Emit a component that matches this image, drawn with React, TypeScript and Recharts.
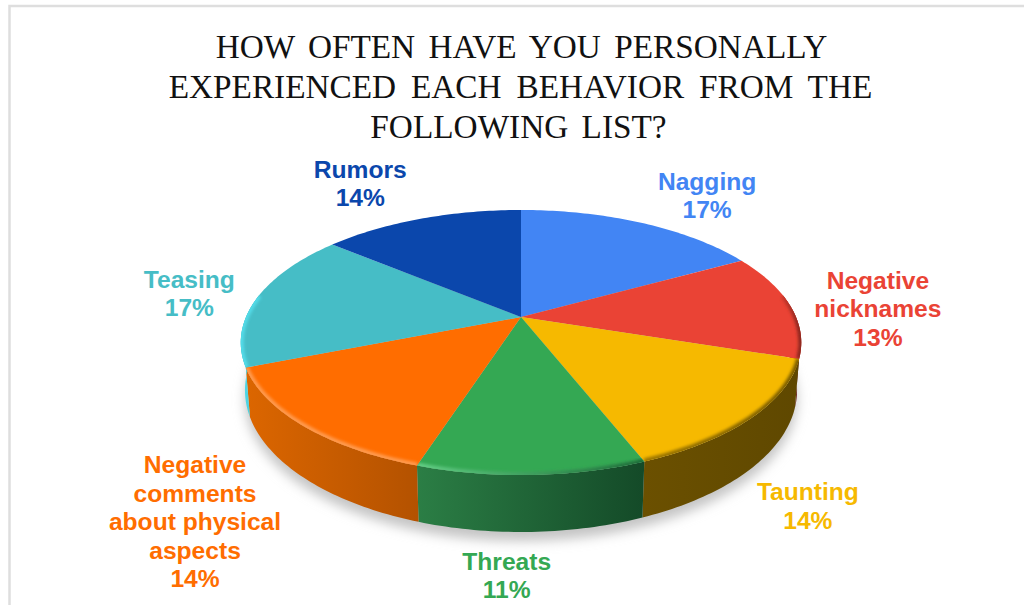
import React from "react";
import { PieChart, Pie, Cell } from "recharts";

const CATEGORIES = ["Nagging", "Negative nicknames", "Taunting", "Threats", "Negative comments about physical aspects", "Teasing", "Rumors"];
const SHARES = [17, 13, 14, 11, 14, 17, 14];
const LABEL_LINES = [["Nagging"], ["Negative", "nicknames"], ["Taunting"], ["Threats"], ["Negative", "comments", "about physical", "aspects"], ["Teasing"], ["Rumors"]];
const TITLE_LINES = ["HOW OFTEN HAVE YOU PERSONALLY", "EXPERIENCED EACH BEHAVIOR FROM THE", "FOLLOWING LIST?"];
const TITLE_CENTERS = [521.5, 520.5, 518.5];
const TITLE_WORD_GAPS = [5, 6.5, 5];

const TOP_COLORS = ["#4285f4", "#ea4335", "#f6b900", "#34a853", "#ff6d00", "#46bdc6", "#0b47ac"];
const WALL_LEFT = ["#2f5db0", "#8c271f", "#6b5000", "#2b7e45", "#dc6600", "#4fd6e4", "#08327a"];
const WALL_RIGHT = ["#2f5db0", "#5e1812", "#5f4800", "#144a28", "#b45200", "#3fc0cc", "#08327a"];
const RIM_LEFT = ["#4285f4", "#c9372c", "#9c7600", "#62cf85", "#ff9a4d", "#52dbe8", "#0b47ac"];
const RIM_RIGHT = ["#4285f4", "#8c271f", "#7a5c00", "#1d6b38", "#ff9a4d", "#52dbe8", "#0b47ac"];

// Label block centre relative to the rim point at each slice's middle angle
const LABEL_SHIFT = [[66, -28], [88, 3], [56, 88], [-25, 100], [-107, 96], [-68, -4.5], [-61, -35.5]];

const CENTER_X = 521;
const CENTER_Y = 317;
const RADIUS = 275;
const TILT = 0.464;
const PERSPECTIVE = 0.1925;
const WALL_DEPTH = 46;
const FLOOR_SHRINK = 0.985;
const WALL_FROM = 80;
const WALL_TO = 280;

const toClock = (deg: number) => 90 - deg;

// Project a clockwise-from-top angle onto the tilted disc with perspective
function rim(clockDeg: number, cx: number, cy: number, r: number) {
  const t = (clockDeg * Math.PI) / 180;
  const across = Math.sin(t);
  const toward = -Math.cos(t);
  const w = 1 - PERSPECTIVE * toward;
  return { x: cx + (r * across) / w, y: cy + (r * TILT * toward) / w, w };
}

function floor(clockDeg: number, cx: number, cy: number, r: number) {
  const p = rim(clockDeg, cx, cy, r);
  return { x: cx + (p.x - cx) * FLOOR_SHRINK, y: p.y + WALL_DEPTH / p.w };
}

function arcPoints(from: number, to: number, at: (d: number) => { x: number; y: number }) {
  const n = Math.max(2, Math.ceil(Math.abs(to - from)));
  const out: string[] = [];
  for (let i = 0; i <= n; i++) {
    const p = at(from + ((to - from) * i) / n);
    out.push(`${p.x.toFixed(2)} ${p.y.toFixed(2)}`);
  }
  return out;
}

function ShadowShape(props: any) {
  const { cx, cy, outerRadius } = props;
  const pts = arcPoints(0, 360, (d) => {
    const p = floor(d, cx, cy, outerRadius);
    return { x: p.x, y: p.y + 9 };
  });
  return (
    <g>
      <defs>
        <filter id="discShadow" x="-20%" y="-30%" width="140%" height="160%">
          <feGaussianBlur stdDeviation="6" />
        </filter>
        <filter id="rimSoft" x="-20%" y="-20%" width="140%" height="140%" filterUnits="objectBoundingBox">
          <feGaussianBlur stdDeviation="1.5" />
        </filter>
      </defs>
      <path d={`M${pts.join("L")}Z`} fill="#c4c4c4" filter="url(#discShadow)" />
    </g>
  );
}

function WallShape(props: any) {
  const { cx, cy, outerRadius, startAngle, endAngle, index } = props;
  const from = Math.max(toClock(startAngle), WALL_FROM);
  const to = Math.min(toClock(endAngle), WALL_TO);
  if (to <= from) return <g />;
  const upper = arcPoints(from, to, (d) => rim(d, cx, cy, outerRadius));
  const lower = arcPoints(to, from, (d) => floor(d, cx, cy, outerRadius));
  const a = rim(from, cx, cy, outerRadius).x;
  const b = rim(to, cx, cy, outerRadius).x;
  const id = `wall-${index}`;
  return (
    <g>
      <defs>
        <linearGradient id={id} gradientUnits="userSpaceOnUse" x1={Math.min(a, b)} x2={Math.max(a, b)} y1={0} y2={0}>
          <stop offset="0" stopColor={WALL_LEFT[index]} />
          <stop offset="1" stopColor={WALL_RIGHT[index]} />
        </linearGradient>
      </defs>
      <path d={`M${upper.join("L")}L${lower.join("L")}Z`} fill={`url(#${id})`} />
    </g>
  );
}

function TopShape(props: any) {
  const { cx, cy, outerRadius, startAngle, endAngle, index } = props;
  const from = toClock(startAngle);
  const to = toClock(endAngle);
  const edge = arcPoints(from, to, (d) => rim(d, cx, cy, outerRadius));
  const bevelFrom = Math.max(from, WALL_FROM);
  const bevelTo = Math.min(to, WALL_TO);
  const id = `rim-${index}`;
  const clip = `top-${index}`;
  const face = `M${cx} ${cy}L${edge.join("L")}Z`;
  let bevel = null;
  if (bevelTo > bevelFrom) {
    const line = arcPoints(bevelFrom, bevelTo, (d) => rim(d, cx, cy, outerRadius));
    const a = rim(bevelFrom, cx, cy, outerRadius).x;
    const b = rim(bevelTo, cx, cy, outerRadius).x;
    bevel = (
      <>
        <defs>
          <linearGradient id={id} gradientUnits="userSpaceOnUse" x1={Math.min(a, b)} x2={Math.max(a, b)} y1={0} y2={0}>
            <stop offset="0" stopColor={RIM_LEFT[index]} />
            <stop offset="1" stopColor={RIM_RIGHT[index]} />
          </linearGradient>
          <clipPath id={clip}>
            <path d={face} />
          </clipPath>
        </defs>
        <g clipPath={`url(#${clip})`}>
          <path d={`M${line.join("L")}`} fill="none" stroke={`url(#${id})`} strokeWidth={6} filter="url(#rimSoft)" />
        </g>
      </>
    );
  }
  return (
    <g>
      <path d={face} fill={TOP_COLORS[index]} />
      {bevel}
    </g>
  );
}

function SliceLabel(props: any) {
  const { cx, cy, outerRadius, midAngle, index, value } = props;
  const p = rim(toClock(midAngle), cx, cy, outerRadius);
  const [dx, dy] = LABEL_SHIFT[index];
  const lines = [...LABEL_LINES[index], `${value}%`];
  const x = p.x + dx;
  const lineHeight = 28.4;
  const y = p.y + dy - ((lines.length - 1) / 2) * lineHeight;
  return (
    <text
      x={x}
      y={y}
      textAnchor="middle"
      dominantBaseline="central"
      fill={TOP_COLORS[index]}
      fontFamily="'Liberation Sans', Arial, sans-serif"
      fontWeight={700}
      fontSize={24.6}
    >
      {lines.map((line, i) => (
        <tspan key={i} x={x} y={y + i * lineHeight}>
          {line}
        </tspan>
      ))}
    </text>
  );
}

const slices = CATEGORIES.map((name, i) => ({ name, value: SHARES[i] }));
const wholeDisc = [{ name: "disc", value: 100 }];

export default function App() {
  return (
    <div style={{ position: "absolute", left: 0, top: 0, width: 1024, height: 605, overflow: "hidden", background: "#fff" }}>
      <PieChart width={1024} height={605} margin={{ top: 0, right: 0, bottom: 0, left: 0 }}>
        <path d="M9.5 605V6H1024" fill="none" stroke="#dedede" strokeWidth={2.5} />
        {TITLE_LINES.map((line, i) => (
          <text
            key={line}
            x={TITLE_CENTERS[i]}
            y={58 + i * 40}
            textAnchor="middle"
            fontFamily="'Liberation Serif', 'Times New Roman', serif"
            fontSize={33.3}
            wordSpacing={TITLE_WORD_GAPS[i]}
            fill="#111"
          >
            {line}
          </text>
        ))}
        <Pie data={wholeDisc} dataKey="value" cx={CENTER_X} cy={CENTER_Y} outerRadius={RADIUS} innerRadius={0} startAngle={90} endAngle={-270} stroke="none" isAnimationActive={false} shape={ShadowShape} />
        <Pie data={slices} dataKey="value" cx={CENTER_X} cy={CENTER_Y} outerRadius={RADIUS} innerRadius={0} startAngle={90} endAngle={-270} stroke="none" isAnimationActive={false} shape={WallShape} />
        <Pie data={slices} dataKey="value" nameKey="name" cx={CENTER_X} cy={CENTER_Y} outerRadius={RADIUS} innerRadius={0} startAngle={90} endAngle={-270} stroke="none" isAnimationActive={false} shape={TopShape} label={SliceLabel} labelLine={false}>
          {slices.map((s, i) => (
            <Cell key={s.name} fill={TOP_COLORS[i]} />
          ))}
        </Pie>
      </PieChart>
    </div>
  );
}
